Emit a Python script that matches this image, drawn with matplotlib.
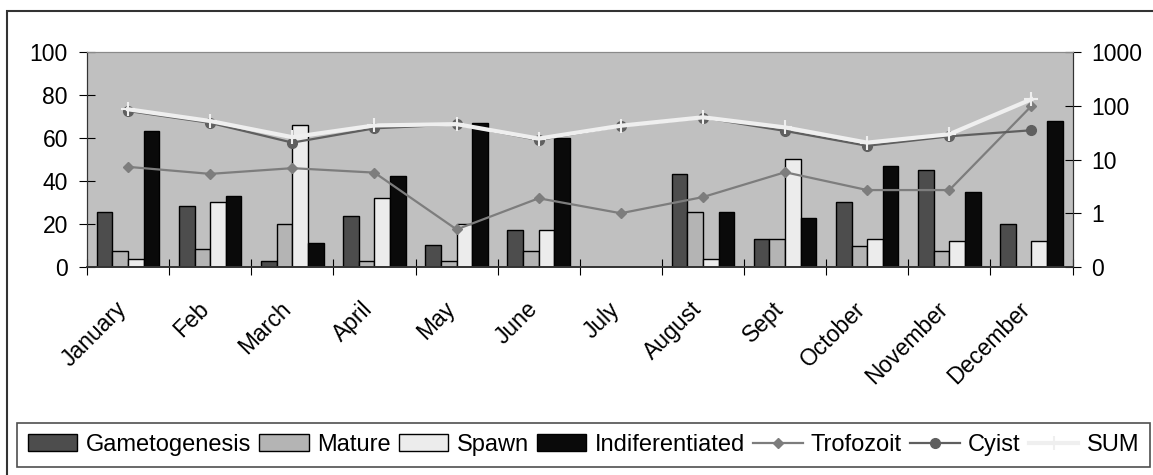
import numpy as np
import matplotlib
matplotlib.use("Agg")
import matplotlib.pyplot as plt
from matplotlib.patches import Rectangle
from matplotlib.transforms import ScaledTranslation
from matplotlib.ticker import FixedLocator, FuncFormatter

plt.rcParams['font.family'] = ['Liberation Sans', 'DejaVu Sans']

meses = ['January', 'Feb', 'March', 'April', 'May', 'June', 'July',
         'August', 'Sept', 'October', 'November', 'December']

# barras (eje izquierdo, %)
gametogenesis = [25.5, 28.5, 2.8, 23.9, 10.2, 17.4, 0, 43.3, 13.0, 30.4, 45.0, 20.2]
mature = [7.4, 8.4, 20.2, 2.8, 2.8, 7.4, 0, 25.7, 13.0, 9.9, 7.4, 0]
spawn = [3.7, 30.4, 66.0, 32.0, 20.2, 17.4, 0, 3.7, 50.4, 13.0, 12.1, 12.1]
indiferentiated = [63.4, 33.2, 11.2, 42.5, 67.1, 60.0, 0, 25.7, 22.9, 47.0, 35.0, 68.0]

# lineas (eje derecho, logaritmico)
trofozoit = [7.3, 5.4, 6.9, 5.7, 0.5, 1.9, 1.0, 2.0, 5.8, 2.7, 2.7, 99]
cyist = [80, 48, 20.6, 38, 45, 23, 42, 60, 34, 18, 27, 35]
suma = [86, 52, 26, 43, 45.5, 24.5, 42.5, 61, 39.5, 20.6, 29.5, 132]

W, H = 1153, 475
fig = plt.figure(figsize=(W / 100, H / 100), dpi=100)
ax = fig.add_axes([87 / W, 1 - 267 / H, (1072.5 - 87) / W, (267 - 52) / H])
ax.set_facecolor('#c0c0c0')

x = np.arange(len(meses))
ancho = 0.19
colores = ['#4d4d4d', '#b4b4b4', '#ececec', '#0a0a0a']
nombres = ['Gametogenesis', 'Mature', 'Spawn', 'Indiferentiated']
series = [gametogenesis, mature, spawn, indiferentiated]
barras = []
for i, (vals, col, nom) in enumerate(zip(series, colores, nombres)):
    b = ax.bar(x + (i - 1.5) * ancho, vals, ancho, color=col, edgecolor='black',
               linewidth=1.0, label=nom, zorder=2)
    barras.append(b)

ax.set_xlim(-0.5, len(meses) - 0.5)
ax.set_ylim(0, 100)
ax.set_yticks([0, 20, 40, 60, 80, 100])
ax.tick_params(axis='y', direction='inout', length=11.5, width=0.8, labelsize=16.5, pad=8)
ax.xaxis.set_major_locator(FixedLocator(np.arange(-0.5, len(meses), 1)))
ax.xaxis.set_major_formatter(FuncFormatter(lambda v, p: ''))
ax.xaxis.set_minor_locator(FixedLocator(x))
ax.set_xticklabels(meses, minor=True)
ax.tick_params(axis='x', which='major', direction='inout', length=11.5, width=0.8)
ax.tick_params(axis='x', which='minor', length=0, labelsize=16.5, pad=22)
for lab in ax.get_xticklabels(minor=True):
    lab.set_rotation(45)
    lab.set_ha('right')
    lab.set_va('top')
    lab.set_rotation_mode('anchor')
    lab.set_transform(lab.get_transform() + ScaledTranslation(-0.13, 0, fig.dpi_scale_trans))

ax2 = ax.twinx()
ax2.set_yscale('log')
ax2.set_ylim(0.1, 1000)
ax2.set_yticks([0.1, 1, 10, 100, 1000])
ax2.yaxis.set_major_formatter(FuncFormatter(lambda v, p: '0' if v < 1 else f'{v:g}'))
ax2.yaxis.set_minor_locator(FixedLocator([]))
ax2.tick_params(axis='y', direction='inout', length=11.5, width=0.8, labelsize=16.5, pad=8)

l1, = ax2.plot(x, trofozoit, color='#7d7d7d', lw=1.6, marker='D', ms=5.5, label='Trofozoit', zorder=3)
l2, = ax2.plot(x, cyist, color='#5f5f5f', lw=1.6, marker='o', ms=7, label='Cyist', zorder=4)
l3, = ax2.plot(x, suma, color='#efefef', lw=3, marker='+', ms=10, mew=1.5, label='SUM', zorder=5)

for a in (ax, ax2):
    a.spines['top'].set_color('#8a8a8a')
    a.spines['left'].set_color('#333333')
    a.spines['right'].set_color('#333333')
    a.spines['bottom'].set_color('#333333')
    a.spines['bottom'].set_linewidth(1.2)

# marco exterior
fig.patches.append(Rectangle((7 / W, -0.1), 1.2, (H - 11) / H + 0.1, transform=fig.transFigure,
                             fill=False, edgecolor='#333333', linewidth=1.5))

leg = fig.legend(barras + [l1, l2, l3], nombres + ['Trofozoit', 'Cyist', 'SUM'],
                 loc='center', ncol=7, mode='expand',
                 bbox_to_anchor=(17 / W, (H - 468) / H, (1150 - 17) / W, 46 / H),
                 fontsize=17, frameon=True, fancybox=False, borderpad=0.45,
                 handlelength=2.1, handletextpad=0.35, columnspacing=0.5,
                 borderaxespad=0)
leg.get_frame().set_edgecolor('#222222')
leg.get_frame().set_linewidth(1.2)

fig.savefig('out.png', dpi=100)
